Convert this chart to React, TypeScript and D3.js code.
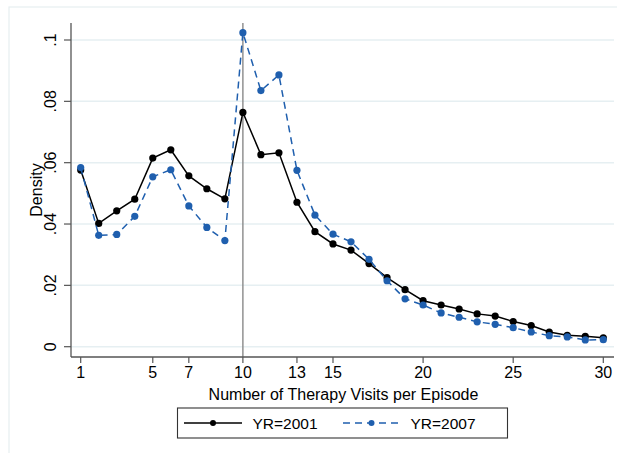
import * as d3 from "d3";

const visits = [
  1, 2, 3, 4, 5, 6, 7, 8, 9, 10, 11, 12, 13, 14, 15, 16, 17, 18, 19, 20, 21, 22, 23, 24, 25, 26, 27, 28, 29, 30,
];
const yr2001 = [
  0.0576, 0.0402, 0.0443, 0.0481, 0.0615, 0.0642, 0.0557, 0.0515, 0.0482, 0.0764, 0.0626, 0.0632, 0.0471,
  0.0375, 0.0335, 0.0315, 0.0271, 0.0225, 0.0186, 0.015, 0.0136, 0.0123, 0.0107, 0.01, 0.0082, 0.0069,
  0.0048, 0.0037, 0.0034, 0.0029,
];
const yr2007 = [
  0.0584, 0.0363, 0.0366, 0.0425, 0.0554, 0.0577, 0.0459, 0.0389, 0.0346, 0.1024, 0.0835, 0.0886, 0.0575,
  0.0429, 0.0367, 0.0342, 0.0285, 0.0215, 0.0156, 0.0136, 0.011, 0.0096, 0.0081, 0.0073, 0.0062, 0.0048,
  0.0036, 0.0032, 0.0022, 0.0023,
];
const xTicks = [1, 5, 7, 10, 13, 15, 20, 25, 30];
const yTicks = [0, 0.02, 0.04, 0.06, 0.08, 0.1];
const yTickLabels = ["0", ".02", ".04", ".06", ".08", ".1"];
const refLine = 10;
const seriesNames = ["YR=2001", "YR=2007"];

const W = 617;
const H = 453;
const FONT = "'Liberation Sans', Arial, Helvetica, sans-serif";
const BLUE = "#1f5fae";

export default function App() {
  // plot region
  const left = 71;
  const right = 614;
  const top = 23;
  const bottom = 357;

  const x = d3.scaleLinear().domain([1, 30]).range([80.7, 603.3]);
  const y = d3.scaleLinear().domain([0, 0.1]).range([346.7, 40]);

  const line = d3
    .line<number>()
    .x((_, i) => x(visits[i]))
    .y((d) => y(d));

  const series = [
    { name: seriesNames[0], values: yr2001, color: "#000", dash: undefined as string | undefined },
    { name: seriesNames[1], values: yr2007, color: BLUE, dash: "7,5" },
  ];

  return (
    <svg
      width={W}
      height={H}
      style={{ position: "absolute", left: 0, top: 0, background: "#fff" }}
      fontFamily={FONT}
    >
      {/* outer frame */}
      <rect x={9} y={7} width={640} height={460} fill="none" stroke="#e6eef0" strokeWidth={1.2} />

      {/* grid */}
      {yTicks.map((t) => (
        <line key={t} x1={left} x2={right} y1={y(t)} y2={y(t)} stroke="#e6eff2" strokeWidth={1.5} />
      ))}

      {/* reference line */}
      <line x1={x(refLine)} x2={x(refLine)} y1={top} y2={bottom} stroke="#8a8a8a" strokeWidth={1.4} />

      {/* axes */}
      <line x1={left} x2={left} y1={top} y2={bottom} stroke="#555" strokeWidth={1.3} />
      <line x1={left} x2={right} y1={bottom} y2={bottom} stroke="#555" strokeWidth={1.3} />

      {yTicks.map((t, i) => (
        <g key={t}>
          <line x1={left - 7} x2={left} y1={y(t)} y2={y(t)} stroke="#555" strokeWidth={1.2} />
          <text
            x={56}
            y={y(t)}
            transform={`rotate(-90, 56, ${y(t)})`}
            textAnchor="middle"
            fontSize={16}
            fill="#000"
          >
            {yTickLabels[i]}
          </text>
        </g>
      ))}

      {xTicks.map((t) => (
        <g key={t}>
          <line x1={x(t)} x2={x(t)} y1={bottom} y2={bottom + 6} stroke="#555" strokeWidth={1.2} />
          <text x={x(t)} y={378} textAnchor="middle" fontSize={16} fill="#000">
            {t}
          </text>
        </g>
      ))}

      <text x={(left + right) / 2 + 1} y={399.5} textAnchor="middle" fontSize={16} fill="#000">
        Number of Therapy Visits per Episode
      </text>
      <text
        x={41.5}
        y={(top + bottom) / 2}
        transform={`rotate(-90, 41.5, ${(top + bottom) / 2})`}
        textAnchor="middle"
        fontSize={16}
        fill="#000"
      >
        Density
      </text>

      {/* series */}
      {series.map((s) => (
        <g key={s.name}>
          <path d={line(s.values) || ""} fill="none" stroke={s.color} strokeWidth={1.5} strokeDasharray={s.dash} />
          {s.values.map((v, i) => (
            <circle key={i} cx={x(visits[i])} cy={y(v)} r={3.6} fill={s.color} />
          ))}
        </g>
      ))}

      {/* legend */}
      <rect x={177.5} y={408} width={330} height={30} fill="#fff" stroke="#333" strokeWidth={1.1} />
      <line x1={184} x2={242} y1={423} y2={423} stroke="#000" strokeWidth={1.5} />
      <circle cx={213} cy={423} r={3} fill="#000" />
      <text x={252.5} y={428.5} fontSize={15.5} fill="#000">
        {seriesNames[0]}
      </text>
      <line x1={343} x2={401} y1={423} y2={423} stroke={BLUE} strokeWidth={1.5} strokeDasharray="7,5" />
      <circle cx={371.5} cy={423} r={3} fill={BLUE} />
      <text x={410.5} y={428.5} fontSize={15.5} fill="#000">
        {seriesNames[1]}
      </text>
    </svg>
  );
}
